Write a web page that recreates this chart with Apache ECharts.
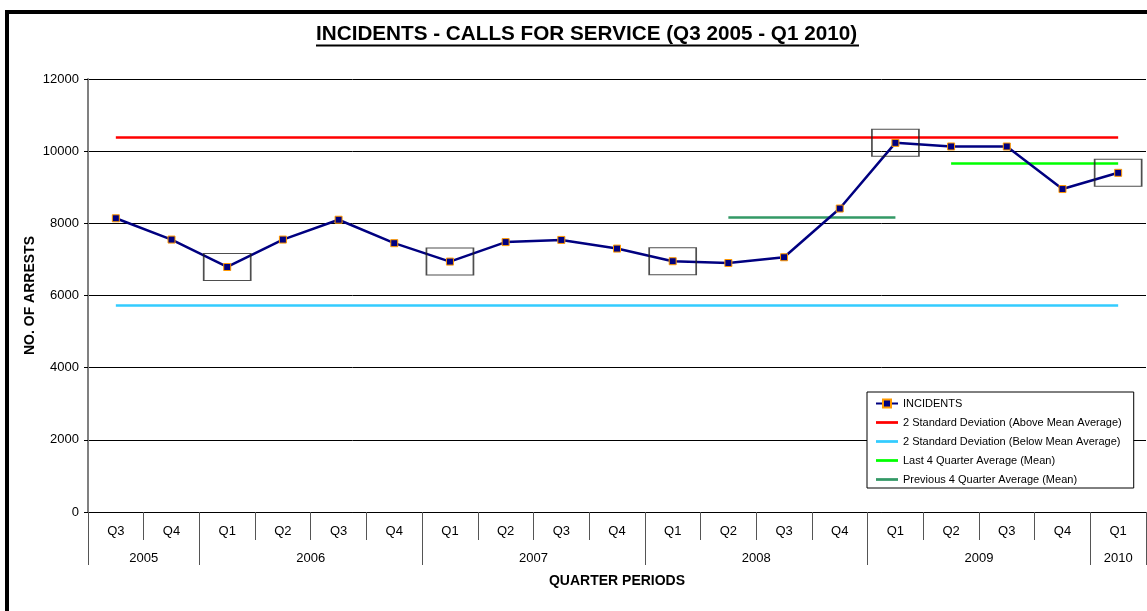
<!DOCTYPE html>
<html>
<head>
<meta charset="utf-8">
<title>Incidents - Calls for Service</title>
<script src="https://cdn.jsdelivr.net/npm/echarts@6/dist/echarts.min.js"></script>
<style>
  html, body { margin: 0; padding: 0; background: #fff; }
  #chart { width: 1147px; height: 611px; }
</style>
</head>
<body>
<div id="chart"></div>
<script>
// quarter periods, Q3 2005 .. Q1 2010
const quarters = ['Q3', 'Q4', 'Q1', 'Q2', 'Q3', 'Q4', 'Q1', 'Q2', 'Q3', 'Q4', 'Q1', 'Q2', 'Q3', 'Q4', 'Q1', 'Q2', 'Q3', 'Q4', 'Q1']
const quarterYears = ['2005', '2005', '2006', '2006', '2006', '2006', '2007', '2007', '2007', '2007', '2008', '2008', '2008', '2008', '2009', '2009', '2009', '2009', '2010']
const incidents = [8140, 7550, 6790, 7550, 8100, 7450, 6940, 7480, 7540, 7300, 6950, 6900, 7060, 8410, 10230, 10130, 10130, 8950, 9400]

// reference levels (value, first and last quarter index)
const aboveMean = 10380
const belowMean = 5720
const last4Avg = 9660
const last4Span = [15, 18]
const prev4Avg = 8160
const prev4Span = [11, 14]

// quarters that get a box drawn round them
const boxedIdx = [2, 6, 10, 14, 18]

const FONT = 'Arial, "Liberation Sans", sans-serif'
const LINE_ICON = 'path://M0,0H20V2.5H0Z'

// year axis: one slot per half quarter so labels can sit between quarter centres
const yearSlots = new Array(quarters.length * 2 + 1).fill('')
const yearEdges = new Set([0])
let start = 0
for (let i = 1; i <= quarters.length; i++) {
  if (i === quarters.length || quarterYears[i] !== quarterYears[start]) {
    yearSlots[start + i] = quarterYears[start]
    yearEdges.add(2 * i)
    start = i
  }
}

function levelData(value, from, to) {
  return quarters.map((q, i) => (i >= from && i <= to ? value : null))
}

function levelSeries(name, value, from, to, color, width) {
  return {
    name: name,
    type: 'line',
    data: levelData(value, from, to),
    symbol: 'none',
    showSymbol: false,
    connectNulls: false,
    silent: true,
    lineStyle: { color: color, width: width },
    itemStyle: { color: color },
    z: 2
  }
}

const chart = echarts.init(document.getElementById('chart'))

const option = {
  animation: false,
  textStyle: { fontFamily: FONT },
  title: {
    text: 'INCIDENTS - CALLS FOR SERVICE (Q3 2005 - Q1 2010)',
    left: 316,
    top: 24,
    padding: 0,
    textStyle: { fontFamily: FONT, fontSize: 20.7, fontWeight: 'bold', color: '#000' }
  },
  graphic: [
    // title underline
    { type: 'line', shape: { x1: 316, y1: 45.5, x2: 859, y2: 45.5 }, style: { stroke: '#000', lineWidth: 2 } },
    // chart frame
    { type: 'rect', shape: { x: 7, y: 12, width: 1300, height: 800 }, style: { fill: null, stroke: '#000', lineWidth: 4 }, z: 100 }
  ],
  legend: {
    left: 867,
    top: 392,
    orient: 'vertical',
    padding: [6, 12, 3, 8],
    itemWidth: 22,
    itemHeight: 10,
    itemGap: 8,
    backgroundColor: '#fff',
    borderColor: '#000',
    borderWidth: 1,
    borderRadius: 0,
    textStyle: { fontFamily: FONT, fontSize: 11, color: '#000' },
    data: [
      'INCIDENTS',
      { name: '2 Standard Deviation (Above Mean Average)', icon: LINE_ICON },
      { name: '2 Standard Deviation (Below Mean Average)', icon: LINE_ICON },
      { name: 'Last 4 Quarter Average (Mean)', icon: LINE_ICON },
      { name: 'Previous 4 Quarter Average (Mean)', icon: LINE_ICON }
    ]
  },
  grid: { left: 88, right: 1, top: 79, bottom: 99 },
  xAxis: [
    {
      type: 'category',
      data: quarters,
      axisLine: { lineStyle: { color: '#000', width: 1 } },
      axisTick: { show: true, interval: 0, length: 28, lineStyle: { color: '#555' } },
      axisLabel: { interval: 0, margin: 13, fontSize: 13, color: '#000', fontFamily: FONT },
      splitLine: { show: false },
      name: 'QUARTER PERIODS',
      nameLocation: 'middle',
      nameGap: 62,
      nameMoveOverlap: false,
      nameTextStyle: { fontFamily: FONT, fontSize: 14, fontWeight: 'bold', color: '#000' }
    },
    {
      type: 'category',
      data: yearSlots,
      boundaryGap: false,
      position: 'bottom',
      axisLine: { show: false },
      axisTick: { show: true, interval: (i) => yearEdges.has(i), length: 53, lineStyle: { color: '#555' } },
      axisLabel: { interval: (i) => yearSlots[i] !== '', margin: 40, fontSize: 13, color: '#000', fontFamily: FONT },
      splitLine: { show: false }
    }
  ],
  yAxis: {
    type: 'value',
    min: 0,
    max: 12000,
    interval: 2000,
    axisLine: { show: true, lineStyle: { color: '#808080', width: 2 } },
    axisTick: { show: true, length: 4, lineStyle: { color: '#000' } },
    axisLabel: { margin: 9, fontSize: 13, color: '#000', fontFamily: FONT, formatter: (v) => String(v) },
    splitLine: { lineStyle: { color: '#000', width: 1 } },
    name: 'NO. OF ARRESTS',
    nameLocation: 'middle',
    nameGap: 51,
    nameMoveOverlap: false,
    nameTextStyle: { fontFamily: FONT, fontSize: 14, fontWeight: 'bold', color: '#000' }
  },
  series: [
    levelSeries('2 Standard Deviation (Above Mean Average)', aboveMean, 0, quarters.length - 1, '#FF0000', 2.5),
    levelSeries('2 Standard Deviation (Below Mean Average)', belowMean, 0, quarters.length - 1, '#33CCFF', 2.5),
    levelSeries('Last 4 Quarter Average (Mean)', last4Avg, last4Span[0], last4Span[1], '#00FF00', 2.5),
    levelSeries('Previous 4 Quarter Average (Mean)', prev4Avg, prev4Span[0], prev4Span[1], '#339966', 2.5),
    {
      name: 'INCIDENTS',
      type: 'line',
      data: incidents,
      symbol: 'rect',
      symbolSize: 7,
      showAllSymbol: true,
      lineStyle: { color: '#000080', width: 2.5 },
      itemStyle: { color: '#000080', borderColor: '#FF9900', borderWidth: 1 },
      z: 4
    },
    {
      name: 'boxes',
      type: 'scatter',
      data: boxedIdx.map((i) => [i, incidents[i]]),
      symbol: 'rect',
      symbolSize: [47, 27],
      silent: true,
      itemStyle: { color: 'rgba(0,0,0,0)', borderColor: '#222', borderWidth: 1.3 },
      z: 5
    }
  ]
}

chart.setOption(option)
</script>
</body>
</html>
